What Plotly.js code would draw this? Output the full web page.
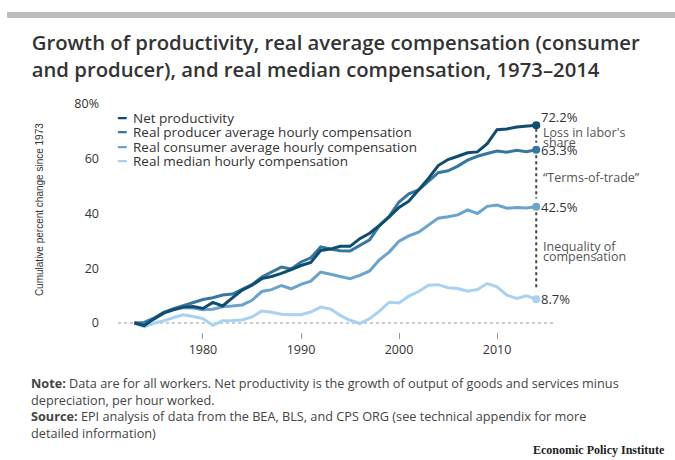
<!DOCTYPE html>
<html>
<head>
<meta charset="utf-8">
<script src="https://cdn.plot.ly/plotly-3.0.1.min.js"></script>
<style>html,body{margin:0;padding:0;background:#fff;}#chart{width:675px;height:460px;}</style>
</head>
<body>
<div id="chart"></div>
<script>
const years = [1973,1974,1975,1976,1977,1978,1979,1980,1981,1982,1983,1984,1985,1986,1987,1988,1989,1990,1991,1992,1993,1994,1995,1996,1997,1998,1999,2000,2001,2002,2003,2004,2005,2006,2007,2008,2009,2010,2011,2012,2013,2014];

const netProductivity = [0,-1.0,1.5,3.7,4.9,5.8,6.0,5.3,7.5,6.2,9.2,12.0,13.8,16.2,17.0,18.1,19.5,21.0,22.1,26.5,27.0,28.0,28.0,30.8,32.8,35.6,38.8,42.2,44.5,48.5,52.8,57.5,59.7,60.9,62.2,62.5,65.5,70.6,70.9,71.6,71.8,72.2];

const producerComp = [0,0.2,1.8,3.9,5.2,6.4,7.6,8.6,9.2,10.2,10.6,12.2,14.0,16.8,18.5,20.4,19.7,22.3,23.8,27.8,27.0,26.4,26.3,28.3,30.4,35.6,39.0,44.2,47.2,48.6,51.6,54.9,55.6,57.3,59.5,60.9,61.9,62.8,62.4,63.1,62.6,63.3];

const consumerComp = [0,-0.5,1.5,3.6,4.8,5.6,5.5,4.8,5.0,5.9,6.2,6.6,8.3,11.5,12.2,13.7,12.5,14.1,15.3,18.6,17.8,17.0,16.2,17.4,19.0,23.1,25.9,29.9,31.8,33.2,35.6,38.3,38.8,39.5,41.3,40.0,42.6,43.1,41.9,42.2,42.0,42.5];

const medianComp = [0,-1.4,-0.1,0.8,2.0,3.0,2.4,1.6,-0.8,0.8,0.9,1.1,2.2,4.4,3.9,3.2,3.0,3.0,4.0,5.8,5.1,2.8,1.0,-0.2,1.6,4.3,7.6,7.3,9.8,11.5,13.8,14.0,12.9,12.6,11.6,12.2,14.4,13.2,10.2,9.0,9.9,8.7];

const seriesNames = ["Net productivity","Real producer average hourly compensation","Real consumer average hourly compensation","Real median hourly compensation"];
const seriesColors = ["#0f4d70","#3677a1","#6aa3cb","#a9d2f1"];
const seriesValues = [netProductivity, producerComp, consumerComp, medianComp];

const xTickVals = [1980,1990,2000,2010];
const yTickVals = [0,20,40,60,80];
const yTickText = ["0","20","40","60","80%"];

const gapLabels = [["Loss in labor's","share"],["\u201cTerms-of-trade\u201d"],["Inequality of","compensation"]];

const last = years.length - 1;
const endYear = years[last];

const traces = [];
seriesValues.forEach((vals, i) => {
  traces.push({
    x: years, y: vals, type: "scatter", mode: "lines", name: seriesNames[i],
    line: {color: seriesColors[i], width: 3}, showlegend: false, hoverinfo: "skip"
  });
});
traces.reverse();
seriesValues.forEach((vals, i) => {
  traces.push({
    x: [endYear], y: [vals[last]], type: "scatter", mode: "markers",
    marker: {color: seriesColors[i], size: 8}, showlegend: false, hoverinfo: "skip"
  });
});

const annotations = [];
// legend
const legY = [0.922, 0.860, 0.797, 0.735];
seriesNames.forEach((n, i) => {
  annotations.push({
    xref: "paper", yref: "paper", x: -0.008, y: legY[i], xanchor: "left", yanchor: "middle",
    text: `<span style="color:${seriesColors[i]}">\u2501</span>&nbsp;&nbsp;${n}`, showarrow: false,
    font: {family: "Open Sans", size: 13.5, color: "#333"}
  });
});
// end value labels
const endShift = [8, 0, 0, 0];
seriesValues.forEach((vals, i) => {
  annotations.push({
    xref: "x", yref: "y", x: endYear, y: vals[last], xanchor: "left", yanchor: "middle",
    xshift: 3, yshift: endShift[i], text: vals[last].toFixed(1) + "%", showarrow: false,
    font: {family: "Open Sans", size: 13, color: "#333"}
  });
});
// gap labels
const gapY = [[69.6, 66.0], [53.0], [28.0, 24.3]];
gapLabels.forEach((lines, g) => {
  lines.forEach((t, k) => {
    annotations.push({
      xref: "x", yref: "y", x: endYear, y: gapY[g][k], xanchor: "left", yanchor: "middle",
      xshift: 5, text: t, showarrow: false,
      font: {family: "Open Sans", size: 12.5, color: "#555"}
    });
  });
});
// y-axis title
annotations.push({
  xref: "paper", yref: "paper", x: -0.179, y: 0.526, xanchor: "center", yanchor: "middle",
  text: "Cumulative percent change since 1973", textangle: -90, showarrow: false,
  font: {family: "Liberation Sans", size: 10, color: "#333"}
});
// notes
annotations.push({
  xref: "paper", yref: "paper", x: -0.205, y: -0.171, xanchor: "left", yanchor: "top", align: "left",
  text: "<b>Note:</b> Data are for all workers. Net productivity is the growth of output of goods and services minus<br>depreciation, per hour worked.",
  showarrow: false, font: {family: "Open Sans", size: 12.7, color: "#444"}
});
annotations.push({
  xref: "paper", yref: "paper", x: -0.205, y: -0.313, xanchor: "left", yanchor: "top", align: "left",
  text: "<b>Source:</b> EPI analysis of data from the BEA, BLS, and CPS ORG (see technical appendix for more<br>detailed information)",
  showarrow: false, font: {family: "Open Sans", size: 12.7, color: "#444"}
});
annotations.push({
  xref: "paper", yref: "paper", x: 1.262, y: -0.509, xanchor: "right", yanchor: "middle",
  text: "<b>Economic Policy Institute</b>", showarrow: false,
  font: {family: "Liberation Serif", size: 12, color: "#222"}
});

const ends = seriesValues.map(v => v[last]);
const shapes = [
  {type: "line", xref: "paper", yref: "y", x0: 0, x1: 1, y0: 0, y1: 0, layer: "below",
   line: {color: "#999", width: 1, dash: "3px,3px"}},
  {type: "line", xref: "x", yref: "y", x0: endYear, x1: endYear, y0: ends[0] - 1.2, y1: ends[1] + 2.5,
   line: {color: "#444", width: 2, dash: "dot"}},
  {type: "line", xref: "x", yref: "y", x0: endYear, x1: endYear, y0: ends[1] - 2.0, y1: ends[2] + 3.0,
   line: {color: "#444", width: 2, dash: "dot"}},
  {type: "line", xref: "x", yref: "y", x0: endYear, x1: endYear, y0: ends[2] - 2.0, y1: ends[3] + 3.3,
   line: {color: "#444", width: 2, dash: "dot"}},
  {type: "rect", xref: "paper", yref: "paper", x0: -0.255, x1: 1.29, y0: 1.353, y1: 1.379,
   fillcolor: "#bdbdbd", line: {width: 0}}
];

const layout = {
  width: 675, height: 460,
  margin: {l: 118, r: 122, t: 100, b: 128},
  paper_bgcolor: "#fff", plot_bgcolor: "#fff",
  title: {
    text: "Growth of productivity, real average compensation (consumer<br>and producer), and real median compensation, 1973\u20132014",
    xref: "container", yref: "container", x: 0.047, xanchor: "left", y: 0.891, yanchor: "top",
    font: {family: "Open Sans", size: 20.3, color: "#333", weight: 600}
  },
  xaxis: {
    range: [1971.33, 2015.71], tickvals: xTickVals, ticks: "outside", ticklen: 6, tickcolor: "#999",
    showgrid: false, zeroline: false, showline: false,
    tickfont: {family: "Open Sans", size: 12.5, color: "#333"}
  },
  yaxis: {
    range: [-3.29, 81.46], tickvals: yTickVals, ticktext: yTickText, ticks: "",
    showgrid: false, zeroline: false, showline: false, ticklabelstandoff: 18,
    tickfont: {family: "Open Sans", size: 12.5, color: "#333"}
  },
  showlegend: false,
  annotations: annotations,
  shapes: shapes
};

Plotly.newPlot("chart", traces, layout, {staticPlot: true, displayModeBar: false});
</script>
</body>
</html>
